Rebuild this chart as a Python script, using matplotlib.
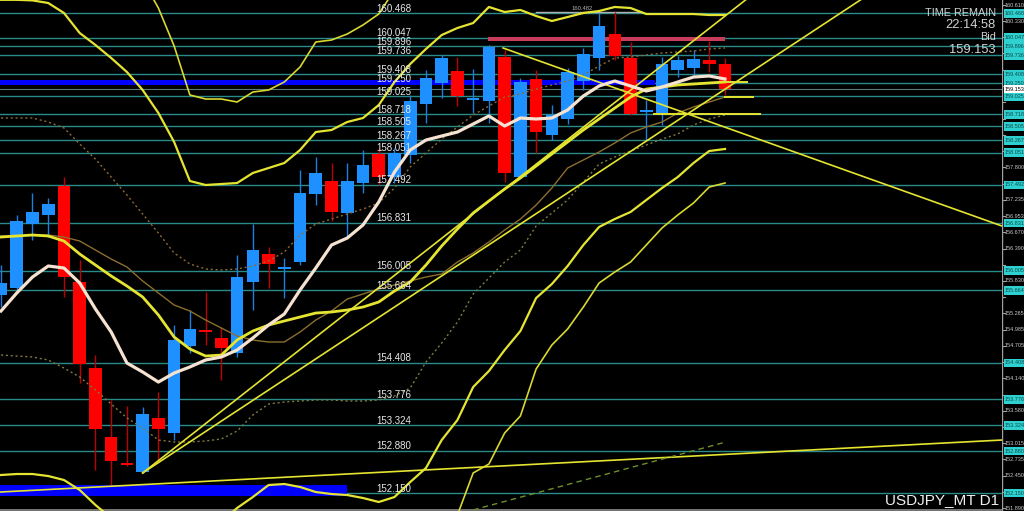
import matplotlib
matplotlib.use('Agg')
import matplotlib.pyplot as plt
import matplotlib.transforms as mtransforms
from matplotlib.patches import Rectangle
import numpy as np

# ---------------- data ----------------
opens = [155.584, 155.706, 156.815, 156.971, 157.473, 155.810, 154.319, 153.123, 152.673, 152.517,
         153.453, 153.193, 154.700, 154.960, 154.839, 154.579, 155.810, 156.295, 156.035, 156.156,
         157.335, 157.560, 157.005, 157.525, 158.028, 157.629, 158.011, 158.895, 159.259, 159.466,
         158.964, 158.947, 159.709, 157.629, 159.328, 158.357, 158.635, 159.293, 159.692, 160.108,
         159.692, 158.756, 158.739, 159.484, 159.518, 159.657, 159.588]
highs = [156.104, 156.971, 157.352, 157.265, 157.629, 156.191, 154.544, 153.765, 153.661, 153.643,
         153.903, 155.064, 155.324, 155.636, 155.030, 156.278, 156.815, 156.416, 156.226, 157.751,
         157.976, 157.872, 157.872, 158.097, 158.132, 158.132, 159.051, 159.484, 159.744, 159.709,
         159.501, 159.917, 159.830, 159.345, 159.484, 158.877, 159.518, 159.865, 160.472, 160.482,
         159.969, 158.964, 159.709, 159.726, 159.830, 159.986, 159.692]
lows = [155.376, 155.671, 156.538, 156.590, 155.550, 154.059, 152.551, 152.291, 152.621, 152.500,
        152.673, 153.071, 154.579, 154.718, 154.111, 154.510, 155.324, 155.706, 155.532, 156.104,
        157.144, 156.867, 156.590, 157.352, 157.491, 157.525, 157.872, 158.565, 158.999, 158.860,
        158.739, 158.565, 157.543, 157.612, 158.045, 158.271, 158.548, 159.137, 159.484, 159.657,
        158.704, 158.271, 158.531, 159.362, 159.362, 159.449, 159.051]
closes = [155.792, 156.867, 157.023, 157.161, 155.896, 154.388, 153.262, 152.707, 152.638, 153.522,
          153.262, 154.804, 154.995, 154.943, 154.666, 155.896, 156.364, 156.121, 156.052, 157.352,
          157.699, 157.023, 157.560, 157.837, 157.629, 158.045, 158.947, 159.345, 159.692, 159.033,
          158.999, 159.882, 157.699, 159.276, 158.409, 158.704, 159.449, 159.761, 160.246, 159.726,
          158.721, 158.773, 159.588, 159.657, 159.674, 159.588, 159.153]

# short moving average (white)
ma_fast = [155.307, 155.619, 155.896, 156.087, 156.052, 155.792, 155.342, 154.943, 154.406, 154.250,
           154.076, 154.232, 154.337, 154.458, 154.510, 154.631, 154.839, 155.064, 155.255, 155.671,
           156.052, 156.451, 156.572, 156.798, 157.196, 157.716, 158.097, 158.270, 158.340, 158.409,
           158.548, 158.687, 158.513, 158.652, 158.635, 158.652, 158.791, 159.033, 159.207, 159.293,
           159.207, 159.120, 159.189, 159.276, 159.362, 159.380, 159.328]
# Bollinger middle (thick yellow)
bb_mid = [156.589, 156.607, 156.624, 156.607, 156.520, 156.295, 156.104, 155.914, 155.740, 155.550,
          155.238, 154.856, 154.649, 154.527, 154.544, 154.805, 154.960, 155.064, 155.134, 155.203,
          155.272, 155.290, 155.324, 155.376, 155.463, 155.654, 155.810, 156.104, 156.434, 156.728,
          157.005, 157.214, 157.421, 157.612, 157.820, 158.028, 158.236, 158.444, 158.635, 158.825,
          159.016, 159.154, 159.189, 159.224, 159.241, 159.259, 159.276]
bb_up2 = [160.700, 160.700, 160.690, 160.645, 160.472, 160.125, 159.917, 159.692, 159.449, 159.137,
          158.739, 158.236, 157.560, 157.491, 157.508, 157.525, 157.699, 157.785, 157.872, 158.097,
          158.409, 158.444, 158.583, 158.652, 158.877, 159.276, 159.588, 159.848, 160.090, 160.212,
          160.298, 160.576, 160.489, 160.524, 160.420, 160.333, 160.402, 160.472, 160.506, 160.576,
          160.558, 160.454, 160.454, 160.454, 160.454, 160.437, 160.437]
bb_dn2 = [152.465, 152.482, 152.482, 152.447, 152.378, 152.205, 151.945, 151.720, 151.598, 151.512,
          151.425, 151.425, 151.512, 151.564, 151.650, 151.893, 152.083, 152.291, 152.309, 152.257,
          152.170, 152.135, 152.118, 152.066, 151.997, 152.083, 152.343, 152.586, 153.071, 153.418,
          153.990, 154.267, 154.631, 154.960, 155.532, 155.775, 156.087, 156.451, 156.763, 156.902,
          157.023, 157.231, 157.439, 157.629, 157.872, 158.080, 158.115]
bb_up3_bars = list(range(9, 26))
bb_up3 = [161.044, 160.558, 159.900, 159.051, 158.981, 158.981, 158.929, 159.102, 159.137, 159.276,
          159.536, 159.969, 160.004, 160.108, 160.264, 160.454, 160.870]
bb_dn3_bars = list(range(28, 47))
bb_dn3 = [151.338, 151.772, 152.500, 152.655, 153.193, 153.487, 154.302, 154.718, 154.995, 155.376,
          155.792, 155.983, 156.156, 156.451, 156.746, 156.971, 157.179, 157.456, 157.525]
bb_up1 = [158.652, 158.652, 158.652, 158.583, 158.479, 158.201, 157.941, 157.629, 157.317, 156.988,
          156.659, 156.312, 156.122, 156.035, 156.018, 156.035, 156.087, 156.174, 156.330, 156.624,
          156.815, 156.901, 156.988, 157.075, 157.179, 157.439, 157.803, 158.045, 158.288, 158.496,
          158.704, 158.860, 159.016, 159.068, 159.154, 159.224, 159.293, 159.397, 159.553, 159.692,
          159.709, 159.744, 159.778, 159.796, 159.813, 159.848, 159.865]
bb_dn1 = [154.544, 154.527, 154.510, 154.458, 154.319, 154.163, 153.938, 153.695, 153.453, 153.279,
          153.071, 153.037, 153.037, 153.054, 153.089, 153.227, 153.505, 153.695, 153.730, 153.747,
          153.765, 153.765, 153.747, 153.747, 153.765, 153.834, 153.972, 154.423, 154.752, 155.116,
          155.602, 155.879, 156.156, 156.364, 156.780, 157.005, 157.231, 157.543, 157.855, 157.976,
          158.080, 158.184, 158.288, 158.375, 158.531, 158.635, 158.704]
ma_slow = [156.607, 156.607, 156.624, 156.624, 156.589, 156.520, 156.364, 156.208, 156.070, 155.827,
           155.619, 155.411, 155.307, 155.151, 155.012, 154.874, 154.804, 154.770, 154.770, 154.943,
           155.151, 155.307, 155.515, 155.602, 155.688, 155.758, 155.827, 155.896, 155.948, 156.156,
           156.312, 156.503, 156.711, 156.901, 157.144, 157.439, 157.785, 157.924, 158.063, 158.219,
           158.392, 158.496, 158.583, 158.739, 158.843, 158.929, 159.016]

levels = [160.468, 160.047, 159.896, 159.736, 159.408, 159.250, 159.025, 158.718, 158.505, 158.267,
          158.051, 157.492, 156.831, 156.005, 155.664, 154.408, 153.776, 153.324, 152.880, 152.150]
bid = 159.153
axis_labels = ['151.890', '152.170', '152.450', '152.735', '153.015', '153.300', '153.580', '153.860',
               '154.140', '154.420', '154.705', '154.985', '155.265', '155.545', '155.830', '156.110',
               '156.390', '156.670', '156.953', '157.235', '157.515', '157.800', '158.080', '158.360',
               '158.640', '158.925', '159.205', '159.485', '159.770', '160.050', '160.330', '160.610']

# drawn objects (bar index, price)
trend_up1 = [(9, 152.500), (47.3, 160.697)]
trend_up2 = [(9, 152.500), (54.6, 160.697)]
trend_down = [(31.9, 159.865), (63.6, 156.780)]
trend_flat = [(-0.06, 152.170), (63.6, 153.071)]
trend_green = [(30.0, 151.860), (46.1, 153.040)]
short_lines = [(46.0, 47.4, 159.276), (46.0, 47.8, 159.016), (41.5, 48.2, 158.721)]
blue_zone = (-0.1, 22.0, 152.101, 152.291)
blue_bar = (-0.1, 41.55, 159.224, 159.310)
red_bar = (30.94, 46.0, 159.986, 160.056)
high_mark = (34.0, 40.6, 160.482)

# ---------------- figure ----------------
BG = 'black'
fig = plt.figure(figsize=(10.24, 5.11), dpi=100, facecolor=BG)
ax = fig.add_axes([0, 0, 1002 / 1024, 1])
ax.set_facecolor(BG)
ymin, ymax = 151.841, 160.697
ax.set_xlim(-0.064, 63.6)
ax.set_ylim(ymin, ymax)
ax.axis('off')

LEVEL_C = '#2a8a8a'
YEL = '#e4e431'
FONT = 'Liberation Sans'

for lv in levels:
    ax.axhline(lv, color=LEVEL_C, lw=1.0, zorder=1)
ax.axhline(bid, color='#5a7a7a', lw=0.8, zorder=1)
ax.axhline(ymin + 0.012, color='#8a8a8a', lw=1.2, zorder=1)

# zones
ax.add_patch(Rectangle((blue_zone[0], blue_zone[2]), blue_zone[1] - blue_zone[0],
                       blue_zone[3] - blue_zone[2], color='#0000ff', lw=0, zorder=2))
ax.add_patch(Rectangle((blue_bar[0], blue_bar[2]), blue_bar[1] - blue_bar[0],
                       blue_bar[3] - blue_bar[2], color='#0000ff', lw=0, zorder=2))
ax.add_patch(Rectangle((red_bar[0], red_bar[2]), red_bar[1] - red_bar[0],
                       red_bar[3] - red_bar[2], color='#c83c5c', lw=0, zorder=2))
ax.plot([high_mark[0], high_mark[1]], [high_mark[2], high_mark[2]], color='#b0b0b0', lw=1, zorder=2)
ax.text((high_mark[0] + high_mark[1]) / 2 - 0.4, high_mark[2] + 0.02, '160.482', color='#b0b0b0',
        fontsize=4.2, ha='center', va='bottom', family=FONT, zorder=6)

# candles
bars = np.arange(len(opens))
for i in bars:
    o, h, l, c = opens[i], highs[i], lows[i], closes[i]
    up = c >= o
    col = '#1e90ff' if up else '#ff0000'
    wcol = '#1e7fe0' if up else '#c00000'
    ax.plot([i, i], [l, h], color=wcol, lw=1.0, zorder=3, solid_capstyle='butt')
    lo = min(o, c)
    hgt = max(abs(c - o), 0.035)
    ax.add_patch(Rectangle((i - 0.4, lo), 0.8, hgt, facecolor=col, edgecolor='none', zorder=4))

# indicators
ax.plot(bars, bb_up1, color='#8c6a35', lw=1.0, ls=(0, (1.5, 2)), zorder=5)
ax.plot(bars, bb_dn1, color='#7f7a40', lw=1.0, ls=(0, (1.5, 2)), zorder=5)
ax.plot(bars, ma_slow, color='#8c6e2e', lw=1.0, zorder=5)
ax.plot(bars, bb_up2, color=YEL, lw=1.6, zorder=5)
ax.plot(bars, bb_dn2, color=YEL, lw=1.6, zorder=5)
ax.plot(bb_up3_bars, bb_up3, color='#d8d830', lw=1.2, zorder=5)
ax.plot(bb_dn3_bars, bb_dn3, color='#d8d830', lw=1.2, zorder=5)
ax.plot(bars, bb_mid, color=YEL, lw=2.0, zorder=5)
ax.plot(bars, ma_fast, color='#f5e2d0', lw=2.3, zorder=6)


def trend(pts, **kw):
    (x0, y0), (x1, y1) = pts
    k = (y1 - y0) / (x1 - x0)
    xe = 63.6 if x1 > 47 else x1
    xs = np.array([x0, xe])
    ax.plot(xs, y0 + k * (xs - x0), **kw)


trend(trend_up1, color=YEL, lw=1.2, zorder=5)
trend(trend_up2, color=YEL, lw=1.2, zorder=5)
trend(trend_down, color=YEL, lw=1.2, zorder=5)
trend(trend_flat, color=YEL, lw=1.2, zorder=5)
ax.plot([trend_green[0][0], trend_green[1][0]], [trend_green[0][1], trend_green[1][1]],
        color='#6f8f2a', lw=1.0, ls=(0, (4, 3)), zorder=5)
for x0, x1, y in short_lines:
    ax.plot([x0, x1], [y, y], color=YEL, lw=1.4, zorder=5)

# level labels on chart
tr = mtransforms.blended_transform_factory(ax.transAxes, ax.transData)
for lv in levels:
    ax.text(376.5 / 1002, lv + 0.028, f'{lv:.3f}', transform=tr, color='#e8e8e8', fontsize=7.0,
            family=FONT, ha='left', va='baseline', zorder=7)

# right price axis
rax = fig.add_axes([1002 / 1024, 0, 22 / 1024, 1])
rax.set_facecolor(BG)
rax.set_xlim(0, 1)
rax.set_ylim(ymin, ymax)
rax.axis('off')
rax.axvline(0.02, color='#a0a0a0', lw=1.0)
boxed = levels + [bid]
for lab in axis_labels:
    v = float(lab)
    rax.plot([0.02, 0.14], [v, v], color='#a0a0a0', lw=0.8)
    if min(abs(v - b) for b in boxed) < 0.12:
        continue  # hidden under a price box, as on the terminal
    rax.text(0.12, v, lab, color='#c8c8c8', fontsize=4.0, family=FONT, ha='left', va='center')
for lv in levels:
    rax.add_patch(Rectangle((0.08, lv - 0.075), 0.92, 0.15, color='#2ed0d0', lw=0, zorder=3))
    rax.text(0.12, lv, f'{lv:.3f}', color='#0b4a4a', fontsize=4.0, family=FONT, ha='left',
             va='center', zorder=4)
rax.add_patch(Rectangle((0.08, bid - 0.075), 0.92, 0.15, color='#ffffff', lw=0, zorder=5))
rax.text(0.12, bid, f'{bid:.3f}', color='#000000', fontsize=4.0, family=FONT, ha='left',
         va='center', zorder=6)

# info texts
TXT = '#d2d2d2'
fig.text(996 / 1024, 1 - 13.5 / 511, 'TIME REMAIN', color=TXT, fontsize=7.8, family=FONT, ha='right', va='center')
fig.text(996 / 1024, 1 - 25 / 511, '22:14:58', color=TXT, fontsize=9.3, family=FONT, ha='right', va='center')
fig.text(996 / 1024, 1 - 37.5 / 511, 'Bid', color=TXT, fontsize=7.8, family=FONT, ha='right', va='center')
fig.text(996 / 1024, 1 - 50 / 511, '159.153', color=TXT, fontsize=9.3, family=FONT, ha='right', va='center')
fig.text(999 / 1024, 1 - 500 / 511, 'USDJPY_MT D1', color='#f0f0f0', fontsize=11.0, family=FONT,
         ha='right', va='center')

fig.savefig('out.png', dpi=100, facecolor=BG)
